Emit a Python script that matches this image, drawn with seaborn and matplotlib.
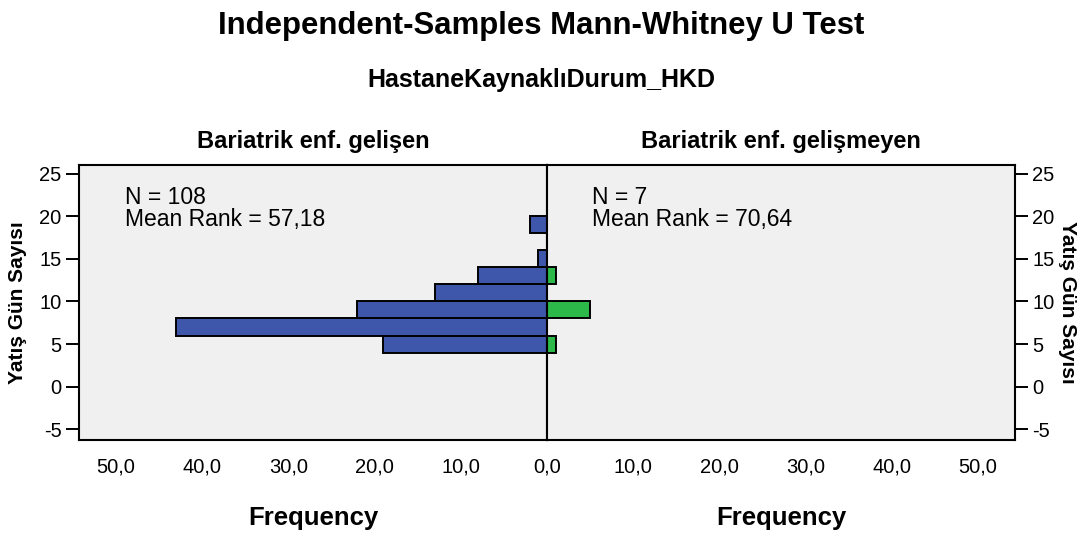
import numpy as np
import pandas as pd
import matplotlib
matplotlib.use('Agg')
import matplotlib.pyplot as plt
import seaborn as sns

# Frekanslar (histogram, bin genişliği 2 gün)
bin_edges = [4, 6, 8, 10, 12, 14, 16, 18, 20]
gelisen_gun = [5, 7, 9, 11, 13, 15, 19]
gelisen_frek = [19, 43, 22, 13, 8, 1, 2]
gelismeyen_gun = [5, 9, 13]
gelismeyen_frek = [1, 5, 1]

x_ticks_sol = [0, 10, 20, 30, 40, 50]
x_labels_sol = ['0,0', '10,0', '20,0', '30,0', '40,0', '50,0']
x_ticks_sag = [10, 20, 30, 40, 50]
x_labels_sag = ['10,0', '20,0', '30,0', '40,0', '50,0']
y_ticks = [-5, 0, 5, 10, 15, 20, 25]

grup_adlari = ['Bariatrik enf. gelişen', 'Bariatrik enf. gelişmeyen']
ozet = ['N = 108\nMean Rank = 57,18', 'N = 7\nMean Rank = 70,64']

sns.set_style('white')
plt.rcParams['font.family'] = ['Liberation Sans', 'DejaVu Sans']
plt.rcParams['text.color'] = 'black'
plt.rcParams['axes.labelcolor'] = 'black'
plt.rcParams['xtick.color'] = 'black'
plt.rcParams['ytick.color'] = 'black'
plt.rcParams['axes.unicode_minus'] = False

fig = plt.figure(figsize=(10.83, 5.33), dpi=100)
ax_l = fig.add_axes([79 / 1083, 1 - 440 / 533, 468 / 1083, 275 / 533])
ax_r = fig.add_axes([547 / 1083, 1 - 440 / 533, 468 / 1083, 275 / 533])

df_l = pd.DataFrame({'gun': gelisen_gun, 'frek': gelisen_frek})
df_r = pd.DataFrame({'gun': gelismeyen_gun, 'frek': gelismeyen_frek})

sns.histplot(data=df_l, y='gun', weights='frek', bins=bin_edges, ax=ax_l,
             color='#3E57AA', edgecolor='black', linewidth=1.4, alpha=1)
sns.histplot(data=df_r, y='gun', weights='frek', bins=bin_edges, ax=ax_r,
             color='#2DB84A', edgecolor='black', linewidth=1.4, alpha=1)

xmax = 54.3
ax_l.set_xlim(xmax, 0)
ax_r.set_xlim(0, xmax)
ax_l.set_xticks(x_ticks_sol)
ax_l.set_xticklabels(x_labels_sol)
ax_r.set_xticks(x_ticks_sag)
ax_r.set_xticklabels(x_labels_sag)

for ax, ad, metin, tx in zip([ax_l, ax_r], grup_adlari, ozet, [46 / 468, 45 / 468]):
    ax.set_facecolor('#F0F0F0')
    ax.set_ylim(-6.25, 26)
    ax.set_yticks(y_ticks)
    ax.tick_params(axis='both', direction='out', length=9.5, width=1.4,
                   color='black', labelsize=14.5, pad=3)
    for s in ax.spines.values():
        s.set_color('black')
        s.set_linewidth(1.5)
    ax.set_xlabel('Frequency', fontsize=18.5, fontweight='bold', va='center')
    ax.xaxis.set_label_coords(0.5, (440 - 518) / 275)
    ax.text(0.5, (440 - 141) / 275, ad, transform=ax.transAxes,
            fontsize=17, fontweight='bold', ha='center', va='center')
    ax.text(tx, (440 - 186) / 275, metin, transform=ax.transAxes,
            fontsize=16.5, va='top', ha='left', linespacing=0.95)

ax_l.set_ylabel('Yatış Gün Sayısı', fontsize=15, fontweight='bold', va='center')
ax_l.yaxis.set_label_coords((18 - 79) / 468, 0.5)
ax_r.yaxis.tick_right()
ax_r.yaxis.set_label_position('right')
ax_r.set_ylabel('Yatış Gün Sayısı', fontsize=15, fontweight='bold',
                rotation=270, va='center')
ax_r.yaxis.set_label_coords((1068 - 547) / 468, 0.5)
ax_l.tick_params(axis='y', left=True, right=False)
ax_r.tick_params(axis='y', right=True, left=False, labelright=True, labelleft=False)

fig.text(0.5, 1 - 26 / 533, 'Independent-Samples Mann-Whitney U Test',
         ha='center', va='center', fontsize=22.4, fontweight='bold')
fig.text(0.5, 1 - 80 / 533, 'HastaneKaynaklıDurum_HKD',
         ha='center', va='center', fontsize=18, fontweight='bold')

fig.savefig('out.png', dpi=100, facecolor='white')
